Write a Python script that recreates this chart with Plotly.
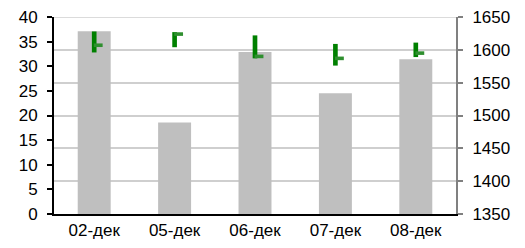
import plotly.graph_objects as go

dates = ["02-дек", "05-дек", "06-дек", "07-дек", "08-дек"]
volume = [37.1, 18.6, 32.9, 24.5, 31.4]
high = [1628, 1627, 1622, 1609, 1611]
low = [1596, 1604, 1587, 1576, 1589]
close = [1607, 1624, 1590, 1587, 1595]

price_range = [1350, 1650]
tick_h = 5.5  # thickness of close tick in price units

fig = go.Figure()
fig.add_trace(go.Bar(x=dates, y=volume, marker=dict(color="#bfbfbf", line=dict(width=0)),
                     width=0.41, offset=-0.205, yaxis="y", showlegend=False))
fig.add_trace(go.Bar(x=dates, y=[h - l for h, l in zip(high, low)], base=low,
                     marker=dict(color="#008000", line=dict(width=0)),
                     width=0.058, offset=-0.029, yaxis="y2", showlegend=False))
fig.add_trace(go.Bar(x=dates, y=[tick_h] * len(close), base=[c - tick_h / 2 for c in close],
                     marker=dict(color="#2f8f2f", line=dict(width=0)),
                     width=0.11, offset=-0.005, yaxis="y2", showlegend=False))

# top gridline at the upper end of the price axis
fig.add_shape(type="line", xref="paper", x0=0, x1=1, yref="y2",
              y0=price_range[1], y1=price_range[1],
              line=dict(color="#cfcfcf", width=1.5), layer="below")

fig.update_layout(
    width=517, height=240,
    margin=dict(l=46, r=69, t=9, b=34, autoexpand=False),
    plot_bgcolor="white", paper_bgcolor="white",
    font=dict(family="Liberation Sans, Arial, sans-serif", size=17, color="#000"),
    barmode="overlay",
    xaxis=dict(type="category", showline=True, linecolor="#000", linewidth=2,
               ticks="", showgrid=False, ticklabelstandoff=0, automargin=False),
    yaxis=dict(range=[0, 40], dtick=5, showline=True, linecolor="#000", linewidth=2,
               ticks="outside", ticklen=5, tickcolor="#000", tickwidth=1.5,
               showgrid=False, zeroline=False, ticklabelstandoff=6, automargin=False,
               ticklabeloverflow="allow"),
    yaxis2=dict(range=price_range, dtick=50, overlaying="y", side="right",
                showline=True, linecolor="#808080", linewidth=2,
                ticks="outside", ticklen=5, tickcolor="#808080", tickwidth=1.5,
                showgrid=True, gridcolor="#cfcfcf", gridwidth=1.5, zeroline=False,
                ticklabelstandoff=6, automargin=False, ticklabeloverflow="allow"),
)

fig.write_html("out.html")
